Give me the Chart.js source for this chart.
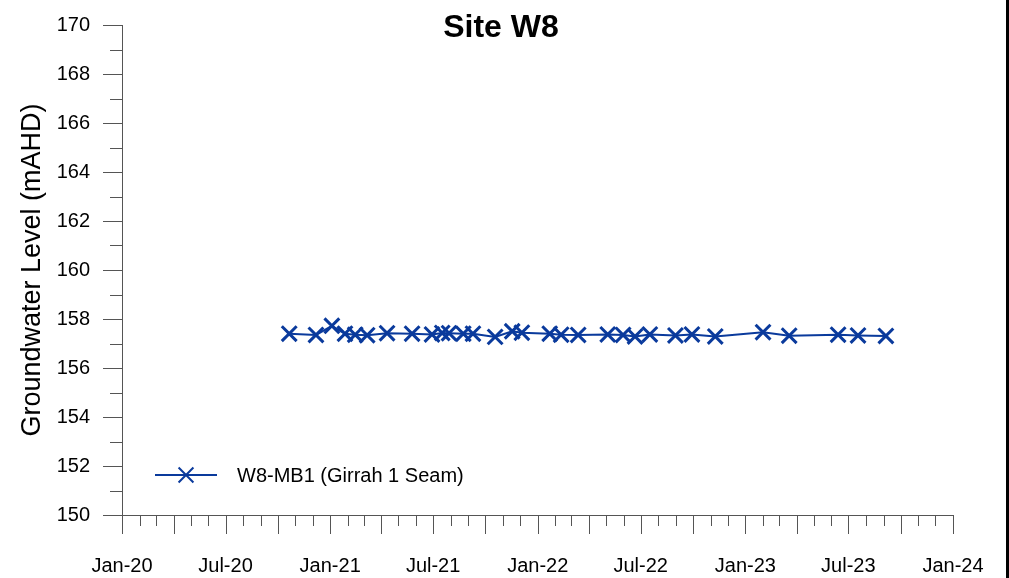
<!DOCTYPE html>
<html>
<head>
<meta charset="utf-8">
<script src="https://cdn.jsdelivr.net/npm/chart.js@4.4.0/dist/chart.umd.min.js"></script>
<style>
  html, body { margin: 0; padding: 0; background: #fff; }
  #wrap { width: 1009px; height: 578px; box-sizing: border-box; border-right: 3px solid #000; background: #fff; }
  canvas { display: block; }
</style>
</head>
<body>
<div id="wrap"><canvas id="c" width="1006" height="578"></canvas></div>
<script>
// ---- Data ----
const chartTitle = 'Site W8';
const seriesLabel = 'W8-MB1 (Girrah 1 Seam)';
const yAxisTitle = 'Groundwater Level (mAHD)';
const sampleDates = [
  '2020-10-21','2020-12-07','2021-01-04','2021-01-27','2021-02-14','2021-03-07',
  '2021-04-11','2021-05-25','2021-06-29','2021-07-17','2021-07-29','2021-08-23',
  '2021-09-09','2021-10-18','2021-11-17','2021-12-04','2022-01-22','2022-02-11',
  '2022-03-13','2022-05-04','2022-05-31','2022-06-21','2022-07-17','2022-08-31',
  '2022-09-29','2022-11-09','2023-02-01','2023-03-19','2023-06-13','2023-07-18',
  '2023-09-05'
];
const waterLevels = [
  157.40, 157.35, 157.72, 157.40, 157.36, 157.34,
  157.42, 157.40, 157.37, 157.43, 157.42, 157.40,
  157.40, 157.27, 157.50, 157.44, 157.40, 157.36,
  157.35, 157.37, 157.35, 157.29, 157.37, 157.33,
  157.37, 157.29, 157.46, 157.32, 157.36, 157.33,
  157.31
];
const tickDates = ['2020-01-01','2020-07-01','2021-01-01','2021-07-01','2022-01-01','2022-07-01','2023-01-01','2023-07-01','2024-01-01'];
const tickLabels = ['Jan-20','Jul-20','Jan-21','Jul-21','Jan-22','Jul-22','Jan-23','Jul-23','Jan-24'];
const yMin = 150, yMax = 170, yStep = 2;

// ---- Helpers ----
const ORIGIN = Date.UTC(2020, 0, 1);
function dayOf(s) {
  const [y, m, d] = s.split('-').map(Number);
  return (Date.UTC(y, m - 1, d) - ORIGIN) / 86400000;
}
const FONT = 'Arial, "Liberation Sans", sans-serif';
const COLOR = '#0A3A9C';
const AXIS = '#555';

const points = sampleDates.map((d, i) => ({ x: dayOf(d), y: waterLevels[i] }));
const xMin = dayOf(tickDates[0]);
const xMax = dayOf(tickDates[tickDates.length - 1]);

// custom tick marks, title, legend
const decor = {
  id: 'decor',
  afterDraw(chart) {
    const ctx = chart.ctx;
    const xs = chart.scales.x, ys = chart.scales.y;
    const ca = chart.chartArea;
    ctx.save();
    ctx.strokeStyle = AXIS;
    ctx.lineWidth = 1;
    // x ticks: monthly (short), quarterly (long)
    const start = new Date(tickDates[0] + 'T00:00:00Z');
    const end = new Date(tickDates[tickDates.length - 1] + 'T00:00:00Z');
    for (let y = start.getUTCFullYear(), m = start.getUTCMonth(); ; ) {
      const t = (Date.UTC(y, m, 1) - ORIGIN) / 86400000;
      if (Date.UTC(y, m, 1) > end.getTime()) break;
      const px = Math.round(xs.getPixelForValue(t)) + 0.5;
      const len = (m % 3 === 0) ? 19 : 11;
      ctx.beginPath();
      ctx.moveTo(px, ca.bottom);
      ctx.lineTo(px, ca.bottom + len);
      ctx.stroke();
      m++; if (m > 11) { m = 0; y++; }
    }
    // y ticks: major every 2, minor every 1
    for (let v = yMin; v <= yMax; v += 1) {
      const py = Math.round(ys.getPixelForValue(v)) + 0.5;
      const len = ((v - yMin) % yStep === 0) ? 19 : 12;
      ctx.beginPath();
      ctx.moveTo(ca.left, py);
      ctx.lineTo(ca.left - len, py);
      ctx.stroke();
    }
    // title
    ctx.fillStyle = '#000';
    ctx.font = 'bold 32px ' + FONT;
    ctx.textAlign = 'center';
    ctx.textBaseline = 'alphabetic';
    ctx.fillText(chartTitle, 501, 37);
    // legend
    const ds = chart.data.datasets[0];
    const ly = ca.bottom - 40;
    const lx0 = ca.left + 33, lx1 = ca.left + 95;
    ctx.strokeStyle = ds.borderColor;
    ctx.lineWidth = ds.borderWidth;
    ctx.beginPath();
    ctx.moveTo(lx0, ly);
    ctx.lineTo(lx1, ly);
    ctx.stroke();
    Chart.helpers.drawPoint(ctx, {
      pointStyle: ds.pointStyle, radius: ds.pointRadius, borderWidth: ds.pointBorderWidth, rotation: 0
    }, (lx0 + lx1) / 2, ly);
    ctx.fillStyle = '#000';
    ctx.font = '20px ' + FONT;
    ctx.textAlign = 'left';
    ctx.textBaseline = 'middle';
    ctx.fillText(ds.label, ca.left + 115, ly + 1);
    ctx.restore();
  }
};

Chart.defaults.color = '#000';
Chart.defaults.font.family = FONT;

new Chart(document.getElementById('c'), {
  type: 'line',
  data: {
    datasets: [{
      label: seriesLabel,
      data: points,
      borderColor: COLOR,
      backgroundColor: COLOR,
      borderWidth: 2,
      pointStyle: 'crossRot',
      pointRadius: 10.5,
      pointHoverRadius: 10.5,
      pointBorderWidth: 3,
      pointBorderColor: COLOR,
      tension: 0,
      fill: false
    }]
  },
  options: {
    responsive: false,
    animation: false,
    events: [],
    layout: { padding: { left: 0, top: 24, right: 53, bottom: 0 } },
    plugins: {
      legend: { display: false },
      title: { display: false },
      tooltip: { enabled: false }
    },
    scales: {
      x: {
        type: 'linear',
        min: xMin,
        max: xMax,
        afterBuildTicks: (scale) => { scale.ticks = tickDates.map(d => ({ value: dayOf(d) })); },
        afterFit: (scale) => { scale.height = 63; },
        grid: { display: true, drawOnChartArea: false, drawTicks: true, tickLength: 19, tickColor: 'rgba(0,0,0,0)' },
        border: { display: true, color: AXIS, width: 1 },
        ticks: {
          autoSkip: false, maxRotation: 0, minRotation: 0, padding: 20,
          font: { size: 20, family: FONT },
          callback: (v, i) => tickLabels[i]
        }
      },
      y: {
        type: 'linear',
        min: yMin,
        max: yMax,
        afterFit: (scale) => { scale.width = 122; },
        grid: { display: true, drawOnChartArea: false, drawTicks: true, tickLength: 19, tickColor: 'rgba(0,0,0,0)' },
        border: { display: true, color: AXIS, width: 1 },
        ticks: { stepSize: yStep, padding: 13, font: { size: 20, family: FONT } },
        title: {
          display: true, text: yAxisTitle,
          font: { size: 27, family: FONT }, padding: { top: 16, bottom: 0 }
        }
      }
    }
  },
  plugins: [decor]
});
</script>
</body>
</html>
